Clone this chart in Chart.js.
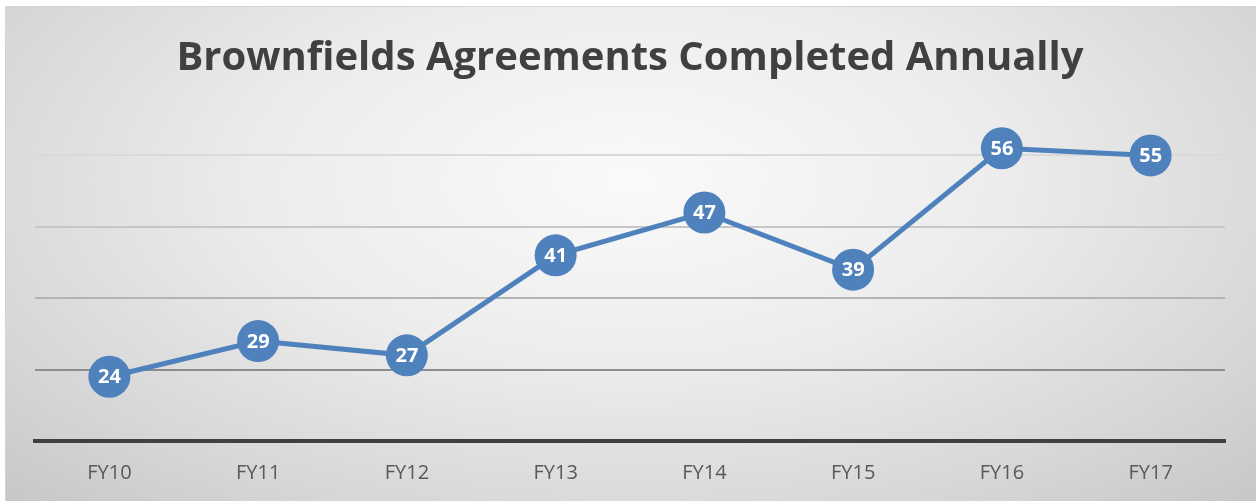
<!DOCTYPE html>
<html>

<head>
    <title>Brownfields Agreements Completed Annually</title>
    <script src="https://cdn.jsdelivr.net/npm/chart.js"></script>
    <style>
        body {
            margin: 0;
            background: #ffffff;
        }

        /* chart frame with grey radial shading like the office chart style */
        .chart-container {
            position: absolute;
            left: 5px;
            top: 6px;
            width: 1251px;
            height: 495px;
            border-top: 1px solid #d4d4d4;
            border-left: 1px solid #d4d4d4;
            box-sizing: border-box;
            background: radial-gradient(ellipse 75% 95% at 50% 35%, #fafafa 0%, #ececec 40%, #d6d6d6 75%, #c4c4c4 100%);
        }
    </style>
</head>

<body>
    <div class="chart-container">
        <canvas id="brownfieldsChart"></canvas>
    </div>

    <script>
        const fiscalYears = ["FY10", "FY11", "FY12", "FY13", "FY14", "FY15", "FY16", "FY17"];
        const agreements = [24, 29, 27, 41, 47, 39, 56, 55];

        const gridColors = { 25: "#8c8c8c", 35: "#b4b4b4", 45: "#c6c6c6", 55: "#dadada" };

        // white numbers written inside each marker
        const pointLabels = {
            id: "pointLabels",
            afterDatasetsDraw(chart) {
                const ctx = chart.ctx;
                const meta = chart.getDatasetMeta(0);
                ctx.save();
                ctx.fillStyle = "#ffffff";
                ctx.font = "bold 20px 'Open Sans'";
                ctx.textAlign = "center";
                ctx.textBaseline = "middle";
                meta.data.forEach((pt, i) => {
                    ctx.fillText(chart.data.datasets[0].data[i], pt.x, pt.y + 1);
                });
                ctx.restore();
            }
        };

        const ctx = document.getElementById("brownfieldsChart").getContext("2d");

        new Chart(ctx, {
            type: "line",
            data: {
                labels: fiscalYears,
                datasets: [{
                    label: "Agreements",
                    data: agreements,
                    borderColor: "#4f81bd",
                    backgroundColor: "#4f81bd",
                    borderWidth: 5,
                    pointRadius: 21,
                    pointHoverRadius: 21,
                    pointBorderWidth: 0,
                    tension: 0
                }]
            },
            options: {
                responsive: true,
                maintainAspectRatio: false,
                animation: false,
                layout: {
                    padding: { left: 29, right: 31, top: 0, bottom: 0 }
                },
                plugins: {
                    legend: { display: false },
                    tooltip: { enabled: false },
                    title: {
                        display: true,
                        text: "Brownfields Agreements Completed Annually",
                        color: "#404040",
                        font: { family: "'Open Sans'", size: 40, weight: "bold", lineHeight: 1.2 },
                        padding: { top: 28, bottom: 1 }
                    }
                },
                scales: {
                    x: {
                        offset: true,
                        grid: { display: false, drawTicks: false },
                        border: { display: true, color: "#404040", width: 4 },
                        ticks: {
                            color: "#595959",
                            font: { family: "'Open Sans'", size: 20 },
                            padding: 20
                        },
                        afterFit(scale) { scale.height = 60; }
                    },
                    y: {
                        min: 15,
                        max: 65,
                        ticks: { display: false, stepSize: 10 },
                        border: { display: false },
                        grid: {
                            drawTicks: false,
                            lineWidth: 2,
                            color: c => gridColors[c.tick.value] || "rgba(0,0,0,0)"
                        },
                        afterFit(scale) { scale.width = 0; }
                    }
                }
            },
            plugins: [pointLabels]
        });
    </script>
</body>

</html>
